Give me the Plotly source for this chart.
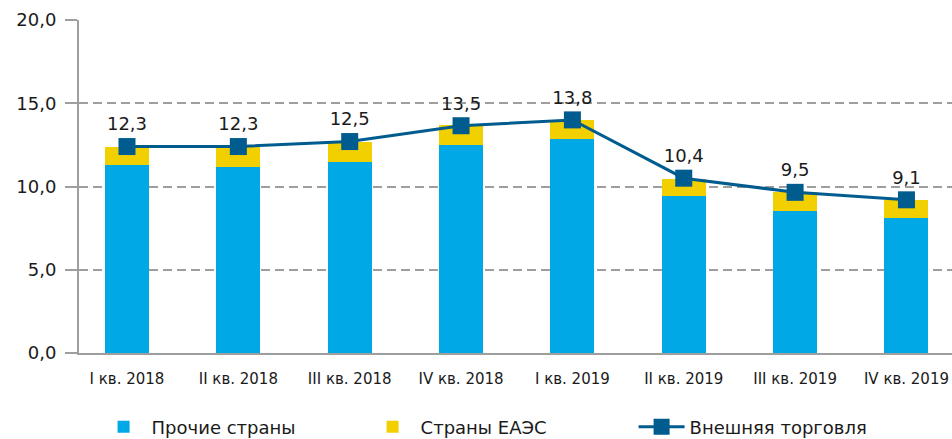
import plotly.graph_objects as go

categories = ["I кв. 2018", "II кв. 2018", "III кв. 2018", "IV кв. 2018",
              "I кв. 2019", "II кв. 2019", "III кв. 2019", "IV кв. 2019"]
other_countries = [11.3, 11.2, 11.45, 12.5, 12.85, 9.45, 8.5, 8.1]
eaeu_countries = [1.1, 1.2, 1.25, 1.2, 1.15, 1.0, 1.2, 1.1]
foreign_trade = [12.4, 12.4, 12.7, 13.65, 14.0, 10.5, 9.65, 9.2]
foreign_trade_labels = ["12,3", "12,3", "12,5", "13,5", "13,8", "10,4", "9,5", "9,1"]
y_ticks = [0, 5, 10, 15, 20]
y_tick_labels = ["0,0", "5,0", "10,0", "15,0", "20,0"]

FONT = "DejaVu Sans"
BLUE = "#00A8E6"
YELLOW = "#F2D000"
DARK = "#005B8E"
GRAY = "#9E9E9E"

fig = go.Figure()
fig.add_trace(go.Bar(
    x=categories, y=other_countries, name="Прочие страны",
    marker=dict(color=BLUE, line=dict(width=0)), width=0.395,
))
fig.add_trace(go.Bar(
    x=categories, y=eaeu_countries, name="Страны ЕАЭС",
    marker=dict(color=YELLOW, line=dict(width=0)), width=0.395,
))
fig.add_trace(go.Scatter(
    x=categories, y=foreign_trade, name="Внешняя торговля",
    mode="lines+markers+text",
    line=dict(color=DARK, width=3),
    marker=dict(symbol="square", size=17, color=DARK),
    text=foreign_trade_labels, textposition="top center",
    textfont=dict(family=FONT, size=18, color="#1a1a1a"),
    cliponaxis=False,
))

fig.update_layout(
    width=952, height=439,
    margin=dict(l=79, r=0, t=20, b=86),
    paper_bgcolor="white", plot_bgcolor="white",
    barmode="stack",
    font=dict(family=FONT, size=18, color="#1a1a1a"),
    showlegend=True,
    legend=dict(
        orientation="h", x=0.019, xanchor="left",
        yref="container", y=0.027, yanchor="middle",
        font=dict(family=FONT, size=18, color="#1a1a1a"),
        itemwidth=46,
        entrywidth=208, entrywidthmode="pixels",
        traceorder="normal", bgcolor="rgba(0,0,0,0)",
    ),
    xaxis=dict(
        type="category", range=[-0.431, 7.409], automargin=False,
        showgrid=False, showline=True, linecolor=GRAY, linewidth=2,
        ticks="outside", ticklen=11, tickcolor="rgba(0,0,0,0)",
        tickfont=dict(family=FONT, size=15, color="#1a1a1a"),
        fixedrange=True,
    ),
    yaxis=dict(
        range=[0, 20], tickvals=y_ticks, ticktext=y_tick_labels, automargin=False,
        showgrid=True, gridcolor=GRAY, gridwidth=1.5, griddash="9px,5px",
        showline=True, linecolor=GRAY, linewidth=2,
        ticks="outside", ticklen=12, tickcolor=GRAY, tickwidth=1.5,
        ticklabelstandoff=5,
        tickfont=dict(family=FONT, size=18, color="#1a1a1a"),
        zeroline=False, fixedrange=True,
    ),
)

fig.write_html(
    "out.html",
    config={"displayModeBar": False},
    post_script="document.body.style.margin='0';document.body.style.overflow='hidden';",
)
